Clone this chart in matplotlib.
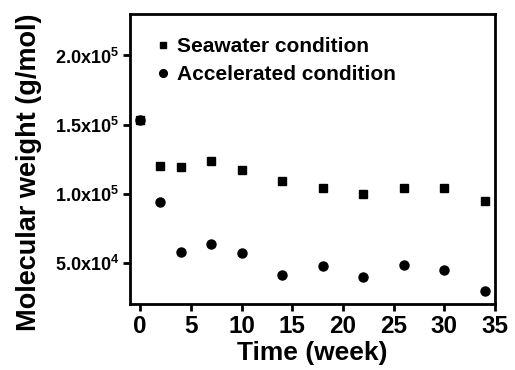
import matplotlib
matplotlib.use("Agg")
import math
import matplotlib.pyplot as plt
from matplotlib.ticker import FuncFormatter, FixedLocator

plt.rcParams['font.family'] = ['Liberation Sans', 'DejaVu Sans']
plt.rcParams['font.weight'] = 'bold'
plt.rcParams['mathtext.default'] = 'regular'

weeks = [0, 2, 4, 7, 10, 14, 18, 22, 26, 30, 34]
seawater = [1.53e5, 1.20e5, 1.19e5, 1.24e5, 1.175e5, 1.095e5, 1.045e5, 1.00e5, 1.045e5, 1.045e5, 0.95e5]
accelerated = [1.53e5, 0.94e5, 0.58e5, 0.635e5, 0.57e5, 0.415e5, 0.48e5, 0.395e5, 0.485e5, 0.45e5, 0.30e5]
yticks = [5.0e4, 1.0e5, 1.5e5, 2.0e5]
xticks = [0, 5, 10, 15, 20, 25, 30, 35]

fig = plt.figure(figsize=(5.15, 3.7), dpi=100)
ax = fig.add_axes([0.2524, 0.1784, 0.7088, 0.7838])

ax.plot(weeks, seawater, 's', color='black', ms=5.8, label='Seawater condition', zorder=3)
ax.plot(weeks, accelerated, 'o', color='black', ms=6.5, label='Accelerated condition', zorder=3)

ax.set_xlim(-1, 35)
ax.set_ylim(2.03e4, 2.30e5)
ax.xaxis.set_major_locator(FixedLocator(xticks))
ax.yaxis.set_major_locator(FixedLocator(yticks))

def fmt(v, pos):
    e = int(math.floor(math.log10(v)))
    m = v / 10**e
    return f'{m:.1f}x10$^{{{e}}}$'

ax.yaxis.set_major_formatter(FuncFormatter(fmt))

for s in ax.spines.values():
    s.set_linewidth(2)
ax.tick_params(axis='both', direction='out', length=5, width=2, color='black')
ax.tick_params(axis='x', labelsize=17.5, pad=3)
ax.tick_params(axis='y', labelsize=13, pad=3)
for lab in ax.get_xticklabels() + ax.get_yticklabels():
    lab.set_fontweight('bold')

ax.set_xlabel('Time (week)', fontsize=19, fontweight='bold', labelpad=2)
ax.set_ylabel('Molecular weight (g/mol)', fontsize=19.5, fontweight='bold')
ax.yaxis.set_label_coords(-0.242, 0.455)

leg = ax.legend(loc='upper left', frameon=False, handletextpad=0.15,
                handlelength=1.0, borderaxespad=0.7, labelspacing=0.45,
                markerscale=0.85, borderpad=0.4,
                prop={'weight': 'bold', 'size': 15})

fig.savefig('out.png', dpi=100)
